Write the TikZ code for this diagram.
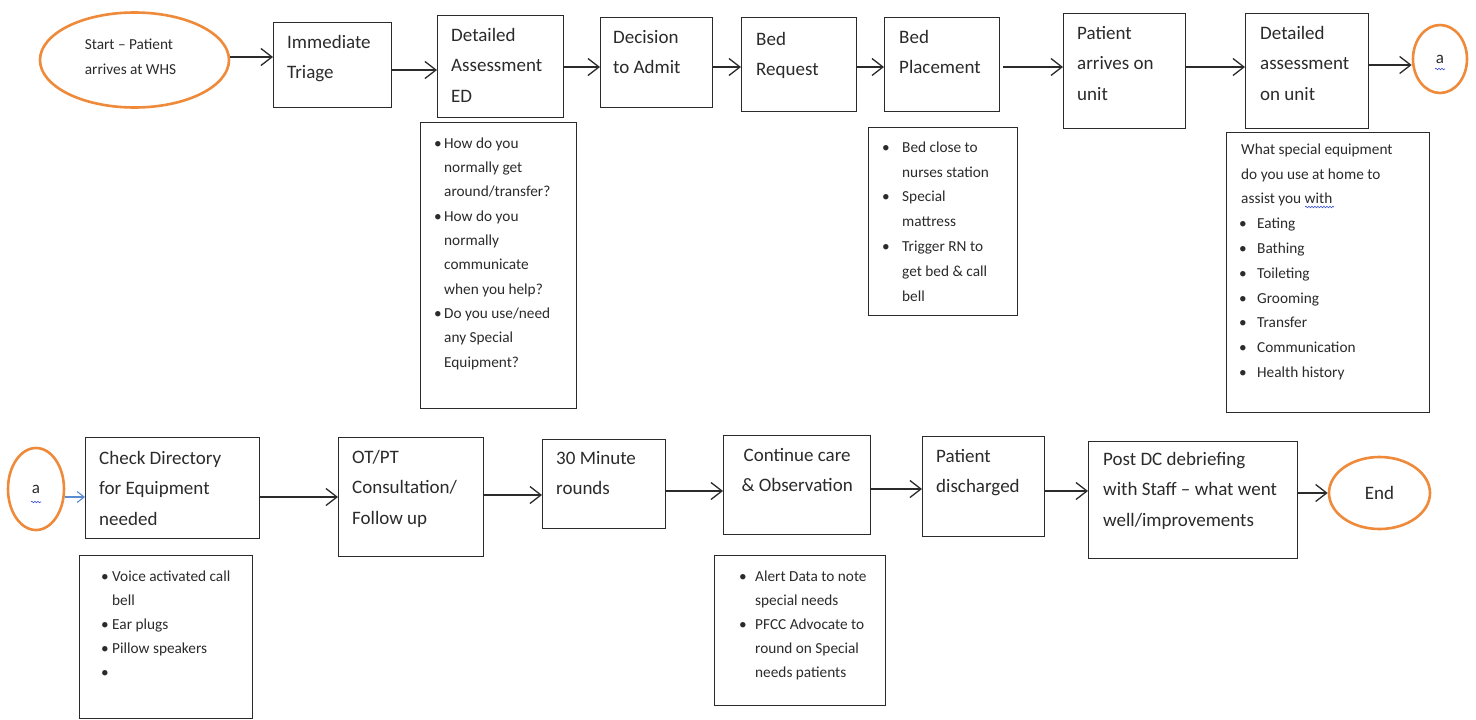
\documentclass[tikz,border=0pt]{standalone}
\usepackage{fontspec}
\setmainfont{Carlito}
\usetikzlibrary{arrows.meta,shapes.geometric,decorations.pathmorphing}
\definecolor{ink}{HTML}{2B2B2B}
\definecolor{termorange}{HTML}{EF8A3A}
\definecolor{linkblue}{HTML}{5B8BD0}
\definecolor{squiggle}{HTML}{3A4FD8}
% bullet set in a box of fixed width, and a matching indent for wrapped lines
\newcommand\bul[1]{\makebox[#1][l]{\textbullet}}
\newcommand\ind[1]{\hspace*{#1}}
\begin{document}
\begin{tikzpicture}[x=1pt,y=-1pt,
  every node/.style={text=ink},
  stepbox/.style={draw=ink, line width=1.3pt, rectangle, inner sep=0pt, anchor=north west},
  steptext/.style={anchor=north west, inner sep=0pt, align=left,
    font=\fontsize{19}{30.5}\selectfont, execute at begin node={\rule{0pt}{15pt}}},
  notetext/.style={anchor=north west, inner sep=0pt, align=left,
    font=\fontsize{15.3}{#1}\selectfont, execute at begin node={\rule{0pt}{12pt}}},
  notetext/.default=24.5,
  term/.style={draw=termorange, line width=2.6pt, ellipse, inner sep=0pt},
  flow/.style={draw=ink, line width=1.3pt,
    -{Straight Barb[length=11pt,width=17pt,line width=1.3pt]}},
  link/.style={draw=linkblue, line width=1.1pt,
    -{Straight Barb[length=7pt,width=11pt,line width=1.1pt]}},
  wavy/.style={draw=squiggle, line width=0.6pt,
    decorate, decoration={snake, segment length=3pt, amplitude=0.8pt}},
]
\fill[white] (0,0) rectangle (1476,720);
\useasboundingbox (0,0) rectangle (1476,720);

% ---------- first row ----------
\node[term, minimum width=189pt, minimum height=95pt] (start) at (134.5,60) {};
\node[align=left, inner sep=0pt, font=\fontsize{15.3}{25}\selectfont]
  (start-t) at ([shift={(-4pt,3pt)}]start.center) {Start – Patient\\arrives at WHS};

\node[stepbox, minimum width=118pt, minimum height=85pt] (tri) at (273,22) {};
\node[steptext] (tri-t) at ([shift={(14pt,-13pt)}]tri.north west) {Immediate\\Triage};

\node[stepbox, minimum width=126pt, minimum height=102pt] (eda) at (437,15) {};
\node[steptext] (eda-t) at ([shift={(14pt,-13pt)}]eda.north west) {Detailed\\Assessment\\ED};

\node[stepbox, minimum width=112pt, minimum height=90pt] (adm) at (600,17) {};
\node[steptext] (adm-t) at ([shift={(13pt,-13pt)}]adm.north west) {Decision\\to Admit};

\node[stepbox, minimum width=115pt, minimum height=94pt] (breq) at (741,17) {};
\node[steptext] (breq-t) at ([shift={(15pt,-15pt)}]breq.north west) {Bed\\Request};

\node[stepbox, minimum width=115pt, minimum height=94pt] (bplc) at (884,17) {};
\node[steptext] (bplc-t) at ([shift={(15pt,-13pt)}]bplc.north west) {Bed\\Placement};

\node[stepbox, minimum width=122pt, minimum height=115pt] (unit) at (1063,13) {};
\node[steptext] (unit-t) at ([shift={(14pt,-13pt)}]unit.north west) {Patient\\arrives on\\unit};

\node[stepbox, minimum width=123pt, minimum height=115pt] (uas) at (1245,13) {};
\node[steptext] (uas-t) at ([shift={(15pt,-13pt)}]uas.north west) {Detailed\\assessment\\on unit};

\node[term, minimum width=54pt, minimum height=68pt, font=\fontsize{17}{20}\selectfont]
  (a1) at (1440,59) {a};
\draw[wavy] ([shift={(-5pt,-10pt)}]a1.center) -- ([shift={(5pt,-10pt)}]a1.center);

\draw[flow] (start.east |- 0,57) -- (tri.west |- 0,57);
\draw[flow] (tri.east |- 0,70) -- (eda.west |- 0,70);
\draw[flow] (eda.east |- 0,67) -- (adm.west |- 0,67);
\draw[flow] (adm.east |- 0,67) -- (breq.west |- 0,67);
\draw[flow] (breq.east |- 0,67) -- (bplc.west |- 0,67);
\draw[flow] ([xshift=3pt]bplc.east |- 0,67) -- (unit.west |- 0,67);
\draw[flow] (unit.east |- 0,67) -- (uas.west |- 0,67);
\draw[flow] (uas.east |- 0,65) -- (a1.west |- 0,65);

% ---------- notes under the first row ----------
\node[stepbox, minimum width=156pt, minimum height=286pt] (ned) at (420,122) {};
\node[notetext=24.3] (ned-t) at ([shift={(14pt,-15.5pt)}]ned.north west)
  {\bul{10pt}How do you\\ \ind{10pt}normally get\\ \ind{10pt}around/transfer?\\
   \bul{10pt}How do you\\ \ind{10pt}normally\\ \ind{10pt}communicate\\ \ind{10pt}when you help?\\
   \bul{10pt}Do you use/need\\ \ind{10pt}any Special\\ \ind{10pt}Equipment?};

\node[stepbox, minimum width=149pt, minimum height=188pt] (nbed) at (868,127) {};
\node[notetext=24.8] (nbed-t) at ([shift={(14pt,-14.5pt)}]nbed.north west)
  {\bul{20pt}Bed close to\\ \ind{20pt}nurses station\\
   \bul{20pt}Special\\ \ind{20pt}mattress\\
   \bul{20pt}Trigger RN to\\ \ind{20pt}get bed \& call\\ \ind{20pt}bell};

\node[stepbox, minimum width=203pt, minimum height=280pt] (neq) at (1226,132) {};
\node[notetext=24.8] (neq-t) at ([shift={(15pt,-11.5pt)}]neq.north west)
  {What special equipment\\do you use at home to\\assist you with\\
   \ind{-2pt}\bul{18pt}Eating\\ \ind{-2pt}\bul{18pt}Bathing\\ \ind{-2pt}\bul{18pt}Toileting\\
   \ind{-2pt}\bul{18pt}Grooming\\ \ind{-2pt}\bul{18pt}Transfer\\
   \ind{-2pt}\bul{18pt}Communication\\ \ind{-2pt}\bul{18pt}Health history};
\draw[wavy] (1305,207) -- (1334,207);

% ---------- second row ----------
\node[term, minimum width=56pt, minimum height=82pt, font=\fontsize{17}{20}\selectfont]
  (a2) at (36,489) {a};
\draw[wavy] ([shift={(-5pt,-13pt)}]a2.center) -- ([shift={(5pt,-13pt)}]a2.center);

\node[stepbox, minimum width=174pt, minimum height=101pt] (chk) at (85,437) {};
\node[steptext] (chk-t) at ([shift={(14pt,-14pt)}]chk.north west) {Check Directory\\for Equipment\\needed};

\node[stepbox, minimum width=145pt, minimum height=119pt] (otpt) at (338,437) {};
\node[steptext] (otpt-t) at ([shift={(14pt,-13pt)}]otpt.north west) {OT/PT\\Consultation/\\Follow up};

\node[stepbox, minimum width=123pt, minimum height=89pt] (rnd) at (542,439) {};
\node[steptext] (rnd-t) at ([shift={(14pt,-12pt)}]rnd.north west) {30 Minute\\rounds};

\node[stepbox, minimum width=147pt, minimum height=99pt] (care) at (723,435) {};
\node[steptext, anchor=north, align=center] (care-t) at ([yshift=-13pt]care.north) {Continue care\\\& Observation};

\node[stepbox, minimum width=122pt, minimum height=100pt] (dis) at (922,436) {};
\node[steptext] (dis-t) at ([shift={(14pt,-13pt)}]dis.north west) {Patient\\discharged};

\node[stepbox, minimum width=209pt, minimum height=117pt] (post) at (1088,441) {};
\node[steptext] (post-t) at ([shift={(15pt,-11pt)}]post.north west)
  {Post DC debriefing\\with Staff – what went\\well/improvements};

\node[term, minimum width=101pt, minimum height=72pt, font=\fontsize{19}{22}\selectfont]
  (end) at (1379.5,493) {End};

\draw[link] (a2.east |- 0,497) -- (chk.west |- 0,497);
\draw[flow] (chk.east |- 0,497) -- (otpt.west |- 0,497);
\draw[flow] (otpt.east |- 0,495) -- (rnd.west |- 0,495);
\draw[flow] (rnd.east |- 0,491) -- (care.west |- 0,491);
\draw[flow] (care.east |- 0,489) -- (dis.west |- 0,489);
\draw[flow] (dis.east |- 0,491) -- (post.west |- 0,491);
\draw[flow] (post.east |- 0,493) -- (end.west |- 0,493);

% ---------- notes under the second row ----------
\node[stepbox, minimum width=173pt, minimum height=163pt] (nvc) at (79,555) {};
\node[notetext=24] (nvc-t) at ([shift={(22pt,-15.5pt)}]nvc.north west)
  {\bul{11pt}Voice activated call\\ \ind{11pt}bell\\ \bul{11pt}Ear plugs\\
   \bul{11pt}Pillow speakers\\ \bul{11pt}};

\node[stepbox, minimum width=171pt, minimum height=150pt] (nal) at (714,555) {};
\node[notetext=24] (nal-t) at ([shift={(25pt,-15.5pt)}]nal.north west)
  {\bul{16pt}Alert Data to note\\ \ind{16pt}special needs\\
   \bul{16pt}PFCC Advocate to\\ \ind{16pt}round on Special\\ \ind{16pt}needs patients};
\end{tikzpicture}
\end{document}
